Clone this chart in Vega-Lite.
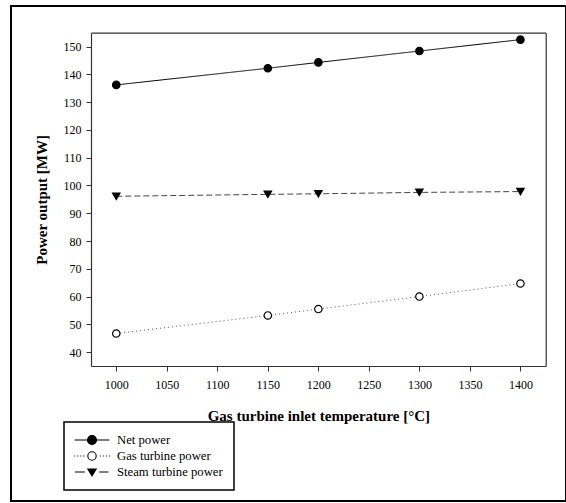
{
  "$schema": "https://vega.github.io/schema/vega-lite/v6.json",
  "autosize": "none",
  "padding": {"left": 11, "top": 6, "right": 0, "bottom": 2},
  "width": 555,
  "height": 495,
  "background": "white",
  "config": {
    "view": {"stroke": "black", "strokeWidth": 2},
    "font": "Liberation Serif",
    "axis": {
      "grid": false,
      "domainColor": "#333333",
      "domainWidth": 1.2,
      "tickColor": "#333333",
      "tickSize": 5,
      "labelFont": "Liberation Serif",
      "labelFontSize": 12,
      "labelColor": "black",
      "titleFont": "Liberation Serif",
      "titleFontSize": 15,
      "titleFontWeight": "bold",
      "titleColor": "black"
    }
  },
  "data": {
    "values": [
      {"series": "Net power", "temperature": 1000, "power": 136.2},
      {"series": "Net power", "temperature": 1150, "power": 142.2},
      {"series": "Net power", "temperature": 1200, "power": 144.3},
      {"series": "Net power", "temperature": 1300, "power": 148.4},
      {"series": "Net power", "temperature": 1400, "power": 152.5},
      {"series": "Gas turbine power", "temperature": 1000, "power": 46.7},
      {"series": "Gas turbine power", "temperature": 1150, "power": 53.2},
      {"series": "Gas turbine power", "temperature": 1200, "power": 55.5},
      {"series": "Gas turbine power", "temperature": 1300, "power": 60.0},
      {"series": "Gas turbine power", "temperature": 1400, "power": 64.7},
      {"series": "Steam turbine power", "temperature": 1000, "power": 96.1},
      {"series": "Steam turbine power", "temperature": 1150, "power": 96.8},
      {"series": "Steam turbine power", "temperature": 1200, "power": 97.0},
      {"series": "Steam turbine power", "temperature": 1300, "power": 97.5},
      {"series": "Steam turbine power", "temperature": 1400, "power": 97.8}
    ]
  },
  "resolve": {"axis": {"x": "independent", "y": "independent"}},
  "layer": [
    {
      "mark": {"type": "line", "strokeWidth": 1},
      "encoding": {
        "x": {
          "field": "temperature", "type": "quantitative",
          "scale": {"domain": [975, 1425], "range": [80, 534.7], "nice": false, "zero": false},
          "axis": {
            "orient": "bottom", "offset": -135,
            "values": [1000, 1050, 1100, 1150, 1200, 1250, 1300, 1350, 1400],
            "format": "d",
            "title": "Gas turbine inlet temperature [°C]",
            "labelPadding": 8, "titlePadding": 18
          }
        },
        "y": {
          "field": "power", "type": "quantitative",
          "scale": {"domain": [35, 155], "range": [360, 26.7], "nice": false, "zero": false},
          "axis": {
            "orient": "left", "offset": -80,
            "values": [40, 50, 60, 70, 80, 90, 100, 110, 120, 130, 140, 150],
            "title": "Power output [MW]",
            "labelPadding": 5, "titlePadding": 14
          }
        },
        "strokeDash": {
          "field": "series", "type": "nominal",
          "scale": {"range": [[1, 3], [1, 0], [6, 3]]},
          "legend": null
        },
        "stroke": {
          "field": "series", "type": "nominal",
          "scale": {"range": ["#555555", "#000000", "#444444"]},
          "legend": null
        }
      }
    },
    {
      "mark": {"type": "point", "filled": true, "stroke": "black", "strokeWidth": 1.2, "opacity": 1, "size": 55},
      "encoding": {
        "x": {
          "field": "temperature", "type": "quantitative",
          "axis": {"orient": "top", "offset": -26.7, "labels": false, "ticks": false, "title": null}
        },
        "y": {
          "field": "power", "type": "quantitative",
          "axis": {"orient": "right", "offset": -20.3, "labels": false, "ticks": false, "title": null}
        },
        "shape": {
          "field": "series", "type": "nominal",
          "scale": {"range": ["circle", "circle", "triangle-down"]},
          "legend": null
        },
        "fill": {
          "field": "series", "type": "nominal",
          "scale": {"domain": ["Net power", "Gas turbine power", "Steam turbine power"], "range": ["#000000", "#ffffff", "#000000"]},
          "legend": {
            "orient": "none", "legendX": 53, "legendY": 416,
            "title": null,
            "strokeColor": "black",
            "padding": 11,
            "symbolSize": 100,
            "symbolOffset": 10,
            "labelOffset": 18,
            "rowPadding": 2,
            "labelFont": "Liberation Serif",
            "labelFontSize": 12.7,
            "labelColor": "black",
            "encoding": {
              "legend": {"strokeWidth": {"value": 1.5}},
              "symbols": {
                "shape": {"value": {"expr": "datum.value === 'Net power' ? 'M-2.9,0L2.9,0M0.75,0A0.75,0.75,0,1,1,-0.75,0A0.75,0.75,0,1,1,0.75,0Z' : datum.value === 'Gas turbine power' ? 'M-2.95,0h0.17M-2.45,0h0.17M-1.95,0h0.17M-1.45,0h0.17M1.3,0h0.17M1.8,0h0.17M2.3,0h0.17M2.8,0h0.17M0.7,0A0.7,0.7,0,1,1,-0.7,0A0.7,0.7,0,1,1,0.7,0Z' : 'M-2.85,0L-1.2,0M1.2,0L2.75,0M-0.7,-0.5L0.7,-0.5L0,0.65Z'"}},
                "stroke": {"value": "black"},
                "strokeWidth": {"value": 1.1},
                "size": {"value": 144},
                "opacity": {"value": 1}
              }
            }
          }
        }
      }
    }
  ]
}
